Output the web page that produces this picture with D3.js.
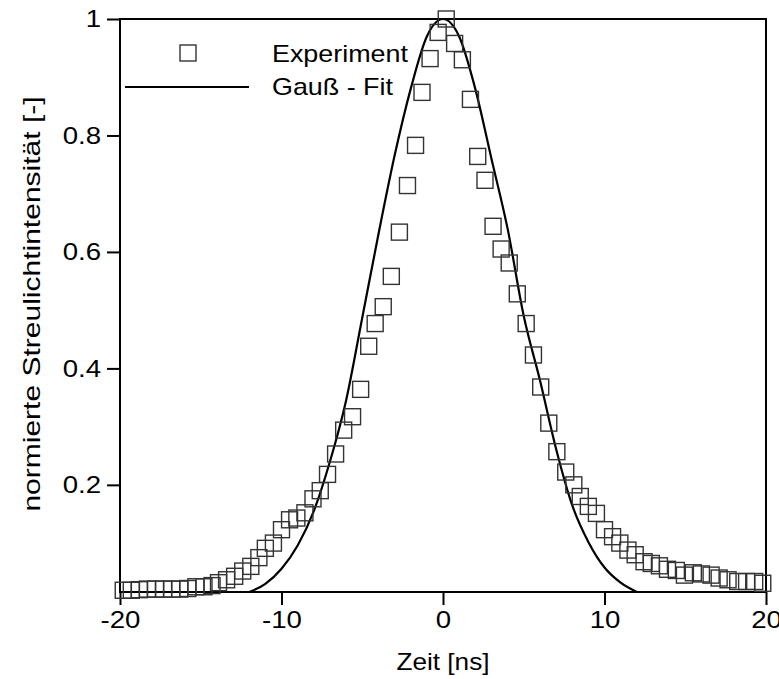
<!DOCTYPE html>
<html>
<head>
<meta charset="utf-8">
<script src="https://cdn.jsdelivr.net/npm/d3@7"></script>
<style>
  body { margin: 0; background: #fff; }
  text { font-family: "Liberation Sans", Arial, sans-serif; }
</style>
</head>
<body>
<div id="chart"></div>
<script>
// data
var expTime = [-19.8, -19.3, -18.8, -18.3, -17.8, -17.3, -16.8, -16.3, -15.8, -15.3,
  -14.8, -14.3, -13.9, -13.4, -12.9, -12.4, -11.9, -11.4, -11.0, -10.5,
  -10.0, -9.5, -9.05, -8.55, -8.05, -7.6, -7.15, -6.65, -6.15, -5.6,
  -5.1, -4.6, -4.2, -3.7, -3.2, -2.7, -2.2, -1.7, -1.3, -0.8,
  -0.3, 0.2, 0.72, 1.2, 1.7, 2.15, 2.6, 3.1, 3.6, 4.1,
  4.6, 5.15, 5.6, 6.05, 6.55, 7.05, 7.6, 8.1, 8.5, 9.0,
  9.5, 10.0, 10.5, 10.95, 11.45, 11.9, 12.45, 12.9, 13.4, 13.9,
  14.45, 14.95, 15.5, 16.0, 16.6, 17.1, 17.65, 18.25, 18.8, 19.3, 19.8];
var expValue = [0.019, 0.019, 0.020, 0.021, 0.021, 0.021, 0.021, 0.021, 0.022, 0.025,
  0.025, 0.027, 0.032, 0.037, 0.043, 0.052, 0.060, 0.075, 0.091, 0.100,
  0.123, 0.140, 0.143, 0.152, 0.176, 0.190, 0.218, 0.253, 0.294, 0.317,
  0.364, 0.438, 0.477, 0.506, 0.558, 0.634, 0.714, 0.783, 0.874, 0.932,
  0.977, 1.000, 0.958, 0.930, 0.862, 0.764, 0.723, 0.644, 0.605, 0.581,
  0.528, 0.477, 0.423, 0.368, 0.306, 0.257, 0.222, 0.200, 0.180, 0.163,
  0.151, 0.123, 0.111, 0.100, 0.088, 0.080, 0.068, 0.065, 0.061, 0.055,
  0.053, 0.045, 0.049, 0.047, 0.045, 0.040, 0.037, 0.034, 0.034, 0.034, 0.031];

var fitTime = [-12, -11, -10, -9, -8, -7, -6, -5, -4, -3, -2, -1, 0,
  1, 2, 3, 4, 5, 6, 7, 8, 9, 10, 11, 12];
var fitValue = [0.016, 0.030, 0.056, 0.096, 0.155, 0.240, 0.345, 0.487, 0.630, 0.765, 0.880, 0.970, 1.000,
  0.970, 0.880, 0.760, 0.640, 0.490, 0.380, 0.262, 0.165, 0.102, 0.058, 0.032, 0.016];

var xTicks = [-20, -10, 0, 10, 20];
var yTicks = [0.2, 0.4, 0.6, 0.8, 1];
var legendLabels = ["Experiment", "Gauß - Fit"];

// dimensions
var margin = {top: 19, right: 13, bottom: 87, left: 120},
    width = 779 - margin.left - margin.right,
    height = 679 - margin.top - margin.bottom;

var svg = d3.select("#chart")
  .append("svg")
    .attr("width", 779)
    .attr("height", 679)
  .append("g")
    .attr("transform", "translate(" + margin.left + "," + margin.top + ")");

var x = d3.scaleLinear().domain([-20, 20]).range([0, width]);
var y = d3.scaleLinear().domain([0.016, 1]).range([height, 0]);

svg.append("defs").append("clipPath").attr("id", "clip")
  .append("rect").attr("width", width).attr("height", height);

// the text in the picture is a bit wider than the font
function stretch(sel, k) {
  sel.each(function () {
    var w = this.getComputedTextLength();
    d3.select(this).attr("textLength", w * k).attr("lengthAdjust", "spacingAndGlyphs");
  });
}

// axes
var xAxis = svg.append("g")
  .attr("transform", "translate(0," + height + ")")
  .call(d3.axisBottom(x).tickValues(xTicks).tickSize(13).tickPadding(6)
    .tickFormat(function (d) { return String(d); }));
var yAxis = svg.append("g")
  .call(d3.axisLeft(y).tickValues(yTicks).tickSize(13).tickPadding(6)
    .tickFormat(function (d) { return d === 1 ? "1" : d3.format(".1f")(d); }));

[xAxis, yAxis].forEach(function (a) {
  a.select(".domain").remove();
  a.selectAll("line").attr("stroke", "#000").attr("stroke-width", 2);
  a.selectAll("text").attr("fill", "#000").style("font-size", "24px");
  stretch(a.selectAll("text"), 1.15);
});

// frame
svg.append("rect")
  .attr("width", width)
  .attr("height", height)
  .attr("fill", "none")
  .attr("stroke", "#000")
  .attr("stroke-width", 2);

// fit line
var fitData = fitTime.map(function (t, i) { return {t: t, v: fitValue[i]}; });
svg.append("path")
  .datum(fitData)
  .attr("clip-path", "url(#clip)")
  .attr("fill", "none")
  .attr("stroke", "#000")
  .attr("stroke-width", 2.2)
  .attr("d", d3.line()
    .x(function (d) { return x(d.t); })
    .y(function (d) { return y(d.v); })
    .curve(d3.curveMonotoneX));

// experiment squares
var s = 16;
var expData = expTime.map(function (t, i) { return {t: t, v: expValue[i]}; });
svg.append("g")
  .selectAll("rect")
  .data(expData)
  .enter()
  .append("rect")
    .attr("x", function (d) { return x(d.t) - s / 2; })
    .attr("y", function (d) { return y(d.v) - s / 2; })
    .attr("width", s)
    .attr("height", s)
    .attr("fill", "none")
    .attr("stroke", "#333")
    .attr("stroke-width", 1.4);

// legend
var legend = svg.append("g");
legend.append("rect")
  .attr("x", 68 - s / 2).attr("y", 34 - s / 2)
  .attr("width", s).attr("height", s)
  .attr("fill", "none").attr("stroke", "#333").attr("stroke-width", 1.4);
legend.append("line")
  .attr("x1", 5).attr("x2", 129).attr("y1", 68).attr("y2", 68)
  .attr("stroke", "#000").attr("stroke-width", 2.2);
legend.selectAll("text.leg")
  .data(legendLabels)
  .enter()
  .append("text")
    .attr("class", "leg")
    .attr("x", 152)
    .attr("y", function (d, i) { return 43 + i * 33; })
    .style("font-size", "24px")
    .text(function (d) { return d; })
    .call(stretch, 1.12);

// axis labels
svg.append("text")
  .attr("x", width / 2)
  .attr("y", height + 78)
  .attr("text-anchor", "middle")
  .style("font-size", "24px")
  .text("Zeit [ns]")
  .call(stretch, 1.09);

svg.append("text")
  .attr("transform", "rotate(-90)")
  .attr("x", 0 - 285)
  .attr("y", 0 - 80)
  .attr("text-anchor", "middle")
  .style("font-size", "24px")
  .text("normierte Streulichtintensität [-]")
  .call(stretch, 1.25);
</script>
</body>
</html>
